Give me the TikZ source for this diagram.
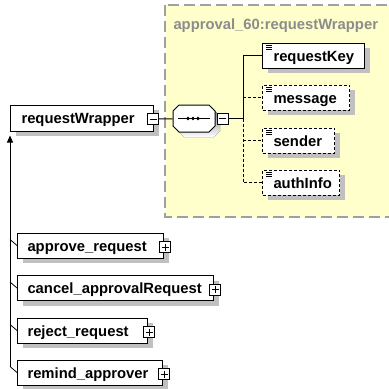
\documentclass[tikz,border=0pt]{standalone}
\usepackage{fontspec}
\setmainfont{Liberation Sans}
\usetikzlibrary{shadows,arrows.meta,calc}
\definecolor{zone}{HTML}{FFFFCC}
\definecolor{shade}{HTML}{C0C0C0}
\definecolor{ttl}{HTML}{8C8C8C}
\definecolor{zoneline}{HTML}{A0A0A0}
\begin{document}
\begin{tikzpicture}[x=1pt,y=-1pt,line width=1pt,
  font=\fontsize{14.8}{17}\selectfont\bfseries,
  shad/.style={general shadow={fill=shade,shadow xshift=5pt,shadow yshift=-5pt}},
  elem/.style={draw,fill=white,shad,anchor=west,minimum height=25pt,
    inner xsep=10pt,inner ysep=0pt,align=left,text height=14pt,text depth=3pt},
  child/.style={elem,inner xsep=11pt},
  opt/.style={dash pattern=on 3pt off 2pt},
  pm/.style={draw,fill=white,minimum size=11pt,inner sep=0pt,line width=0.8pt}
]
\useasboundingbox (0,0) rectangle (389,389);
% zone
\begin{scope}
\clip (0,0) rectangle (389,389);
\draw[zoneline,fill=zone,line width=1.3pt,dash pattern=on 11pt off 5pt] (165,5) rectangle (400,217);
\end{scope}
\node[ttl,anchor=base west,inner sep=0pt] (title) at (173,29) {approval\_60:requestWrapper};

% root element
\node[elem,minimum height=26pt,inner xsep=11pt,text width=121pt] (rw) at (10,118) {requestWrapper};
\node[pm] (m0) at ($(rw.east)+(-1,1)$) {};
\draw[line width=0.8pt] ($(m0.center)+(-3.5,0)$) -- ($(m0.center)+(3.5,0)$);

% sequence compositor
\node[minimum width=42pt,minimum height=27pt,inner sep=0pt] (seq) at (194,118.5) {};
\fill[shade] (184,110) -- (214,110) -- (220,116) -- (220,131) -- (214,137) -- (184,137) -- (178,131) -- (178,116) -- cycle;
\draw[fill=white] (179,105) -- (209,105) -- (215,111) -- (215,126) -- (209,132) -- (179,132) -- (173,126) -- (173,111) -- cycle;
\draw ($(seq.center)+(-16,0)$) -- ($(seq.center)+(16,0)$);
\foreach \dx in {-6,-1,4} \fill ($(seq.center)+(\dx,0)$) circle (1.8pt);
\node[pm] (m1) at (222.5,118.5) {};
\draw[line width=0.8pt] ($(m1.center)+(-3.5,0)$) -- ($(m1.center)+(3.5,0)$);
\draw (m0) -- (seq);
\coordinate (J) at (243,118.5);

% children
\node[child,text width=80pt] (rk) at (262,55.5) {requestKey};
\node[child,opt,text width=65pt] (msg) at (262,97.5) {message};
\node[child,opt,text width=50pt] (snd) at (262,140.5) {sender};
\node[child,opt,text width=55pt] (ai) at (262,182.5) {authInfo};
\foreach \n in {rk,msg,snd,ai}{
  \foreach \dy in {3,5,7}
    \draw[line width=0.7pt] ($(\n.north west)+(4,\dy)$) -- ($(\n.north west)+(10,\dy)$);
}
\draw (m1) -- (J) |- (rk.west);
\draw[opt] (J |- msg.west) -- (msg.west);
\draw[opt] (J) |- (ai.west);
\draw[opt] (J |- snd.west) -- (snd.west);

% referencing elements
\node[elem,text width=126pt] (ap) at (17,245.5) {approve\_request};
\node[elem,text width=176pt] (ca) at (17,288) {cancel\_approvalRequest};
\node[elem,text width=110pt] (rj) at (17,330.5) {reject\_request};
\node[elem,text width=125pt] (rm) at (17,372.5) {remind\_approver};
\foreach \n in {ap,ca,rj,rm}{
  \node[pm] (p\n) at ($(\n.east)+(1,1.5)$) {};
  \draw[line width=0.8pt] ($(p\n.center)+(-3.5,0)$) -- ($(p\n.center)+(3.5,0)$);
  \draw[line width=0.8pt] ($(p\n.center)+(0,-3.5)$) -- ($(p\n.center)+(0,3.5)$);
}
\coordinate (tt) at ($(rw.south west)+(0,4)$);
\coordinate (tb) at ($(rm.west)+(-7,-6)$);
\draw[-{Triangle[length=7pt,width=6pt]}] (tb) -- (tt);
\foreach \n in {ap,ca,rj,rm}
  \draw[line width=0.8pt] ($(\n.west)+(-7,-6)$) -- (\n.west);
\end{tikzpicture}
\end{document}
